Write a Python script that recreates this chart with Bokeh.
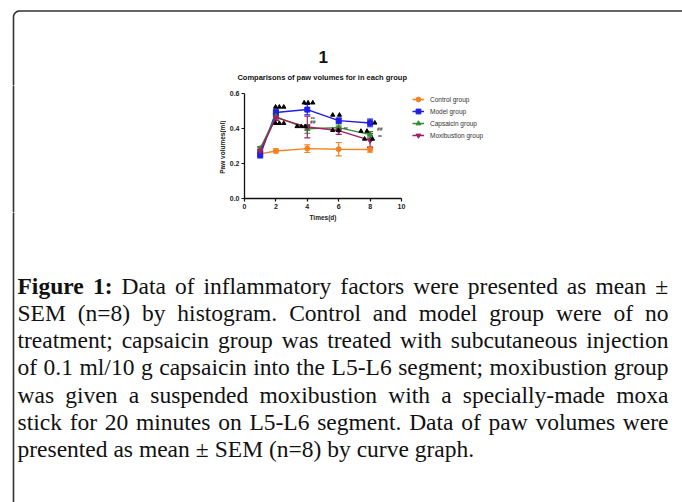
import math
from bokeh.plotting import figure
from bokeh.layouts import column, row
from bokeh.models import (Range1d, FixedTicker, NumeralTickFormatter, Whisker, ColumnDataSource,
                          Legend, LegendItem, TeeHead)
from bokeh.core.properties import value
from bokeh.embed import file_html
from bokeh.resources import INLINE

# ---------------- data ----------------
days = [1, 2, 4, 6, 8]
control = [0.255, 0.272, 0.285, 0.282, 0.280]
control_sem = [0.012, 0.012, 0.022, 0.038, 0.015]
model = [0.250, 0.492, 0.508, 0.445, 0.432]
model_sem = [0.018, 0.018, 0.030, 0.015, 0.022]
capsaicin = [0.285, 0.468, 0.398, 0.405, 0.365]
capsaicin_sem = [0.012, 0.018, 0.025, 0.015, 0.018]
moxibustion = [0.272, 0.462, 0.408, 0.388, 0.332]
moxibustion_sem = [0.018, 0.015, 0.062, 0.022, 0.040]

group_names = ["Control group", "Model group", "Capsaicin group", "Moxibustion group"]

# significance markers (black triangles) and text marks
sig_x = [1.98, 2.22, 2.50, 1.98, 2.22, 2.50, 3.80, 4.05, 4.35, 3.35, 3.62, 3.88,
         5.62, 6.05, 5.62, 5.98, 7.42, 7.80, 8.30, 7.65, 8.15]
sig_y = [0.523, 0.523, 0.523, 0.430, 0.430, 0.430, 0.547, 0.547, 0.547, 0.412, 0.412, 0.412,
         0.477, 0.477, 0.390, 0.390, 0.385, 0.385, 0.432, 0.340, 0.340]
mark_x = [4.35, 4.35, 6.45, 8.62, 8.62]
mark_y = [0.455, 0.435, 0.395, 0.395, 0.350]
mark_text = ["**", "##", "**", "##", "**"]

x_ticks = [0, 2, 4, 6, 8, 10]
y_ticks = [0.0, 0.2, 0.4, 0.6]
x_axis_max = 10
y_axis_max = 0.6

panel_title = "1"
chart_title = "Comparisons of paw volumes for in each group"
x_label = "Times(d)"
y_label = "Paw volumes(ml)"

caption_lines = [
    "Figure 1: Data of inflammatory factors were presented as mean ±",
    "SEM (n=8) by histogram. Control and model group were of no",
    "treatment; capsaicin group was treated with subcutaneous injection",
    "of 0.1 ml/10 g capsaicin into the L5-L6 segment; moxibustion group",
    "was given a suspended moxibustion with a specially-made moxa",
    "stick for 20 minutes on L5-L6 segment. Data of paw volumes were",
    "presented as mean ± SEM (n=8) by curve graph.",
]

# ---------------- layout (page pixels) ----------------
W, H = 682, 502
T_H = 85                 # top strip (border, titles)
ROW_Y1 = 212             # chart row ends here
ROW_H = ROW_Y1 - T_H
L_W = 226                # left strip beside chart
C_H = H - ROW_Y1         # caption strip
AX_L, AX_B = 244, 198    # page position of the axes origin
PX_X = 15.7              # px per x unit
PX_Y = 105 / 0.6         # px per y unit
BORDER_X, BORDER_Y, RAD = 13.0, 10.5, 6.0
BORDER_COLOR, BORDER_W = "#333333", 1.6
SANS = "Liberation Sans"


def pixel_fig(w, h):
    f = figure(width=w, height=h, x_range=Range1d(0, w), y_range=Range1d(h, 0),
               min_border=0, x_axis_location=None, y_axis_location=None,
               output_backend="svg", toolbar_location=None)
    f.outline_line_color = None
    f.grid.visible = False
    f.background_fill_color = "white"
    f.border_fill_color = "white"
    return f


# ---- top strip: border corner, top edge, titles ----
top = pixel_fig(W, T_H)
cx, cy = BORDER_X + RAD, BORDER_Y + RAD
bx, by = [BORDER_X], [T_H + 2.0]
for i in range(9):
    th = math.pi + i * (math.pi / 2) / 8
    bx.append(cx + RAD * math.cos(th))
    by.append(cy + RAD * math.sin(th))
bx.append(W + 5.0)
by.append(BORDER_Y)
top.line(bx, by, line_color=BORDER_COLOR, line_width=BORDER_W)
top.text([322.7], [56.0], text=[panel_title], text_font=value(SANS),
         text_font_style="bold", text_font_size="17px", text_color="#111111",
         text_align="center", text_baseline="middle")
top.text([321.7], [77.0], text=[chart_title], text_font=value(SANS),
         text_font_style="bold", text_font_size="7.5px", text_color="#111111",
         text_align="center", text_baseline="middle")

# ---- left strip: border edge and y-axis title ----
left = pixel_fig(L_W, ROW_H)
left.line([BORDER_X, BORDER_X], [-2.0, ROW_H + 2.0], line_color=BORDER_COLOR, line_width=BORDER_W)
left.text([222.4], [146.7 - T_H], text=[y_label], angle=math.pi / 2, text_font=value(SANS),
          text_font_style="bold", text_font_size="6.5px", text_color="#222222",
          text_align="center", text_baseline="middle")

# ---- chart (frame extends right and up; axes bounded to the data extent) ----
M_W = W - L_W
frame_w = W - AX_L
frame_h = AX_B - T_H
p = figure(width=M_W, height=ROW_H,
           x_range=Range1d(0, frame_w / PX_X), y_range=Range1d(0, frame_h / PX_Y),
           min_border_left=AX_L - L_W, min_border_right=0,
           min_border_top=0, min_border_bottom=ROW_Y1 - AX_B,
           output_backend="svg", toolbar_location=None)
p.outline_line_color = None
p.grid.visible = False
p.background_fill_color = "white"
p.border_fill_color = "white"

for ax in (p.xaxis[0], p.yaxis[0]):
    ax.axis_line_width = 1.3
    ax.axis_line_color = "#111111"
    ax.major_tick_line_color = "#111111"
    ax.major_tick_line_width = 1.2
    ax.major_tick_out = 3
    ax.major_tick_in = 0
    ax.minor_tick_line_color = None
    ax.major_label_text_font = SANS
    ax.major_label_text_font_style = "bold"
    ax.major_label_text_font_size = "7px"
    ax.major_label_text_color = "#222222"
    ax.major_label_standoff = 2

p.xaxis[0].ticker = FixedTicker(ticks=x_ticks)
p.yaxis[0].ticker = FixedTicker(ticks=y_ticks)
p.xaxis[0].bounds = (0, x_axis_max)
p.yaxis[0].bounds = (0, y_axis_max)
p.yaxis[0].formatter = NumeralTickFormatter(format="0.0")

colors = ["#F58220", "#1E1EE6", "#2F8F2F", "#A01F66"]
markers = ["circle", "square", "triangle", "inverted_triangle"]
sizes = [5, 5, 5.5, 5.5]
series = [(control, control_sem), (model, model_sem),
          (capsaicin, capsaicin_sem), (moxibustion, moxibustion_sem)]

items = []
for name, (vals, sem), c, m, s in zip(group_names, series, colors, markers, sizes):
    src = ColumnDataSource(dict(x=days, y=vals,
                                upper=[v + e for v, e in zip(vals, sem)],
                                lower=[v - e for v, e in zip(vals, sem)]))
    ln = p.line("x", "y", source=src, line_color=c, line_width=1.5)
    wk = Whisker(source=src, base="x", upper="upper", lower="lower",
                 line_color=c, line_width=1.2,
                 upper_head=TeeHead(size=6, line_color=c, line_width=1.2),
                 lower_head=TeeHead(size=6, line_color=c, line_width=1.2))
    p.add_layout(wk)
    sc = p.scatter("x", "y", source=src, marker=m, size=s, fill_color=c, line_color=c)
    items.append(LegendItem(label=name, renderers=[ln, sc]))

p.scatter(sig_x, sig_y, marker="triangle", size=4.2, fill_color="black", line_color="black")
p.text(mark_x, mark_y, text=mark_text, text_font=value(SANS),
       text_font_size="5px", text_font_style="bold", text_color="#333333",
       text_align="center", text_baseline="middle")

legend = Legend(items=items, location=(412 - AX_L, AX_B - 141.3),
                glyph_width=12, glyph_height=12, label_height=12, label_width=40,
                label_text_font=SANS, label_text_font_size="6.5px",
                label_text_color="#333333", label_standoff=6, spacing=0,
                padding=0, margin=0, border_line_alpha=0, background_fill_alpha=0)
p.add_layout(legend)

# ---- caption strip (also holds the x-axis title) ----
cap = pixel_fig(W, C_H)
cap.line([BORDER_X, BORDER_X], [-2.0, C_H + 2.0], line_color=BORDER_COLOR, line_width=BORDER_W)
cap.text([AX_L + x_axis_max * PX_X / 2], [217.0 - ROW_Y1], text=[x_label], text_font=value(SANS),
         text_font_style="bold", text_font_size="6.5px", text_color="#222222",
         text_align="center", text_baseline="middle")

# justified using Times metrics (Liberation Serif is metric-compatible)
reg = {' ': 250, '!': 333, '(': 333, ')': 333, ',': 250, '-': 333, '.': 250, '/': 278,
       ':': 278, ';': 278, '=': 564, '±': 564,
       'A': 722, 'B': 667, 'C': 667, 'D': 722, 'E': 611, 'F': 556, 'G': 722, 'H': 722,
       'I': 333, 'J': 389, 'K': 722, 'L': 611, 'M': 889, 'N': 722, 'O': 722, 'P': 556,
       'Q': 722, 'R': 667, 'S': 556, 'T': 611, 'U': 722, 'V': 722, 'W': 944, 'X': 722,
       'Y': 722, 'Z': 611,
       'a': 444, 'b': 500, 'c': 444, 'd': 500, 'e': 444, 'f': 333, 'g': 500, 'h': 500,
       'i': 278, 'j': 278, 'k': 500, 'l': 278, 'm': 778, 'n': 500, 'o': 500, 'p': 500,
       'q': 500, 'r': 333, 's': 389, 't': 278, 'u': 500, 'v': 500, 'w': 722, 'x': 500,
       'y': 500, 'z': 444}
for d in "0123456789":
    reg[d] = 500
bold = {'F': 611, 'i': 278, 'g': 500, 'u': 556, 'r': 444, 'e': 444, '1': 500, ':': 333}

FS = 23.5
LEFT, RIGHT = 17.0, 668.0
LINE_Y0, LINE_DY = 285.0, 27.3


def wwidth(word, is_bold):
    tbl = bold if is_bold else reg
    return sum(tbl.get(ch, 500) for ch in word) * FS / 1000.0


reg_x, reg_y, reg_t = [], [], []
b_x, b_y, b_t = [], [], []
for li, line in enumerate(caption_lines):
    words = line.split(" ")
    flags = [li == 0 and wi < 2 for wi in range(len(words))]
    widths = [wwidth(w, f) for w, f in zip(words, flags)]
    space = 250 * FS / 1000.0
    last = li == len(caption_lines) - 1
    if not last and len(words) > 1:
        gap = max(space, (RIGHT - LEFT - sum(widths)) / (len(words) - 1))
    else:
        gap = space
    x = LEFT
    yv = LINE_Y0 + li * LINE_DY - ROW_Y1
    for w, f, wd in zip(words, flags, widths):
        if f:
            b_x.append(x); b_y.append(yv); b_t.append(w)
        else:
            reg_x.append(x); reg_y.append(yv); reg_t.append(w)
        x += wd + gap

cap.text(reg_x, reg_y, text=reg_t, text_font=value("Liberation Serif"),
         text_font_size=f"{FS}px", text_color="#111111",
         text_align="left", text_baseline="middle")
cap.text(b_x, b_y, text=b_t, text_font=value("Liberation Serif"), text_font_style="bold",
         text_font_size=f"{FS}px", text_color="#111111",
         text_align="left", text_baseline="middle")

layout = column(top, row(column(left), p), cap)
open("out.html", "w").write(file_html(layout, INLINE))
